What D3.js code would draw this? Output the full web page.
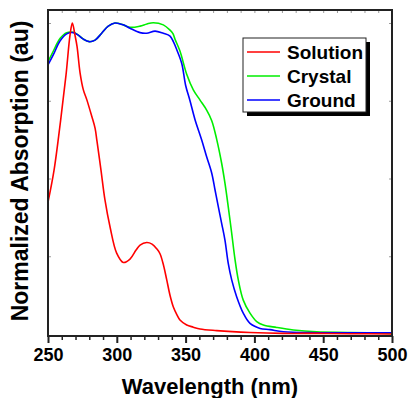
<!DOCTYPE html>
<html>
<head>
<meta charset="utf-8">
<script src="https://cdn.jsdelivr.net/npm/d3@7"></script>
<style>
  html, body { margin: 0; padding: 0; background: #fff; }
  svg { display: block; font-family: "Liberation Sans", Arial, sans-serif; }
</style>
</head>
<body>
<div id="chart"></div>
<script>
// wavelength (nm) / normalized absorption
const seriesNames = ["Solution", "Crystal", "Ground"];

const solutionNm = [250, 254.4, 259.2, 263.1, 266, 267.7, 269.6, 271.1, 273.3, 275.7, 278.3, 281.8, 284.2, 285.6, 288.5, 291.4, 295.1, 299.9, 304.7, 309.6, 314, 316.9, 321.7, 325.6, 329.2, 331.4, 333.9, 336.3, 338.7, 341.1, 343.8, 345.9, 350.8, 355.6, 360.5, 372.6, 396.8, 420.8, 445.5, 470, 500];
const solutionAbs = [0.424, 0.527, 0.688, 0.833, 0.961, 1.0, 0.961, 0.925, 0.84, 0.785, 0.752, 0.7, 0.662, 0.62, 0.527, 0.431, 0.344, 0.26, 0.23, 0.241, 0.27, 0.286, 0.294, 0.289, 0.273, 0.258, 0.222, 0.174, 0.124, 0.087, 0.061, 0.045, 0.029, 0.022, 0.016, 0.011, 0.005, 0.002, 0.002, 0.001, 0.0];

const crystalNm = [250, 253.9, 258.7, 263.6, 268.4, 272, 275.7, 280, 284.2, 289, 293.8, 298.7, 304.7, 309.6, 316.9, 321.9, 326.5, 333.8, 338.7, 340.8, 342.3, 345.9, 350.8, 355.6, 360.5, 365.3, 369, 372.6, 376.2, 378.6, 381, 383.5, 385.9, 388.3, 391.9, 396.8, 401.7, 406.5, 416.2, 428.3, 445.3, 469.5, 500];
const crystalAbs = [0.875, 0.91, 0.95, 0.969, 0.97, 0.961, 0.948, 0.94, 0.945, 0.967, 0.99, 1.0, 0.994, 0.986, 0.99, 0.997, 1.001, 0.994, 0.977, 0.966, 0.948, 0.91, 0.835, 0.785, 0.752, 0.72, 0.686, 0.626, 0.549, 0.485, 0.409, 0.324, 0.24, 0.174, 0.109, 0.067, 0.04, 0.029, 0.021, 0.013, 0.007, 0.005, 0.002];

const groundNm = [250, 253.9, 258.7, 263.6, 268.4, 272, 275.7, 280, 284.2, 289, 293.8, 298.7, 304.7, 309.6, 316.9, 321.7, 327.8, 333.8, 338.7, 341.1, 343.5, 347.2, 350, 353.2, 356.8, 361.7, 365.3, 369, 371.4, 373.8, 376.2, 378.6, 381, 383.5, 387.1, 391.9, 396.8, 404.1, 411.3, 421, 445.3, 500];
const groundAbs = [0.865, 0.898, 0.942, 0.965, 0.969, 0.961, 0.948, 0.94, 0.945, 0.967, 0.99, 1.0, 0.994, 0.983, 0.969, 0.967, 0.974, 0.967, 0.958, 0.94, 0.915, 0.87, 0.8, 0.75, 0.69, 0.624, 0.57, 0.517, 0.463, 0.409, 0.356, 0.302, 0.227, 0.174, 0.12, 0.067, 0.034, 0.018, 0.014, 0.007, 0.004, 0.004];

const xMajor = [250, 300, 350, 400, 450, 500];
const yTicks = [0, 0.25, 0.5, 0.75, 1];

const width = 409, height = 398;
const box = { left: 48, right: 392, top: 10, bottom: 336 };
const colors = { Solution: "#ff0000", Crystal: "#00ee00", Ground: "#0000ff" };
const frameColor = "#222";

const svg = d3.select("#chart").append("svg")
    .attr("width", width)
    .attr("height", height);

const x = d3.scaleLinear().domain([250, 500]).range([box.left, box.right]);
const y = d3.scaleLinear().domain([0, 1]).range([box.bottom - 2, 23]);

// clip lines to the frame
svg.append("clipPath").attr("id", "plot-clip")
    .append("rect")
    .attr("x", box.left).attr("y", box.top)
    .attr("width", box.right - box.left).attr("height", box.bottom - box.top);

const series = [
    { name: "Solution", nm: solutionNm, abs: solutionAbs },
    { name: "Crystal", nm: crystalNm, abs: crystalAbs },
    { name: "Ground", nm: groundNm, abs: groundAbs }
];

const line = d3.line()
    .x(d => x(d[0]))
    .y(d => y(d[1]))
    .curve(d3.curveCatmullRom.alpha(0.5));

const linesG = svg.append("g").attr("clip-path", "url(#plot-clip)");
// crystal first, then ground, solution on top
[series[1], series[2], series[0]].forEach(s => {
    linesG.append("path")
        .datum(d3.zip(s.nm, s.abs))
        .attr("fill", "none")
        .attr("stroke", colors[s.name])
        .attr("stroke-width", 1.6)
        .attr("stroke-linejoin", "round")
        .attr("d", line);
});

// bottom axis: major + minor ticks outward
const minorTicks = d3.range(250, 501, 10).filter(v => !xMajor.includes(v));

svg.append("g")
    .attr("transform", `translate(0,${box.bottom})`)
    .call(d3.axisBottom(x).tickValues(minorTicks).tickSize(4).tickFormat(""))
    .call(g => g.select(".domain").remove())
    .call(g => g.selectAll("line").attr("stroke", frameColor).attr("stroke-width", 1.5));

const xAxis = svg.append("g")
    .attr("transform", `translate(0,${box.bottom})`)
    .call(d3.axisBottom(x).tickValues(xMajor).tickSize(7).tickPadding(5).tickFormat(d3.format("d")));
xAxis.select(".domain").remove();
xAxis.selectAll("line").attr("stroke", frameColor).attr("stroke-width", 2);
xAxis.selectAll("text")
    .attr("fill", "#000")
    .style("font-size", "18px")
    .style("font-weight", "bold")
    .style("font-family", "'Liberation Sans', Arial, sans-serif");

// faint mirror ticks inside the frame
const mirror = "#9a9a9a";
svg.append("g")
    .attr("transform", `translate(0,${box.top})`)
    .call(d3.axisBottom(x).tickValues(d3.range(260, 500, 10)).tickSize(3).tickFormat(""))
    .call(g => g.select(".domain").remove())
    .call(g => g.selectAll("line").attr("stroke", mirror));

svg.append("g")
    .attr("transform", `translate(${box.left},0)`)
    .call(d3.axisRight(y).tickValues(yTicks.slice(1)).tickSize(3).tickFormat(""))
    .call(g => g.select(".domain").remove())
    .call(g => g.selectAll("line").attr("stroke", mirror));

svg.append("g")
    .attr("transform", `translate(${box.right},0)`)
    .call(d3.axisLeft(y).tickValues(yTicks.slice(1)).tickSize(3).tickFormat(""))
    .call(g => g.select(".domain").remove())
    .call(g => g.selectAll("line").attr("stroke", mirror));

// frame
svg.append("rect")
    .attr("x", box.left).attr("y", box.top)
    .attr("width", box.right - box.left).attr("height", box.bottom - box.top)
    .attr("fill", "none")
    .attr("stroke", frameColor)
    .attr("stroke-width", 2);

// axis titles
svg.append("text")
    .attr("x", 210).attr("y", 394)
    .attr("text-anchor", "middle")
    .style("font-size", "22px").style("font-weight", "bold")
    .text("Wavelength (nm)");

svg.append("text")
    .attr("transform", "translate(28,171) rotate(-90)")
    .attr("text-anchor", "middle")
    .style("font-size", "23px").style("font-weight", "bold")
    .text("Normalized Absorption (au)");

// legend with drop shadow
const legend = svg.append("g");
legend.append("rect")
    .attr("x", 247).attr("y", 42).attr("width", 123).attr("height", 74)
    .attr("fill", "#000");
legend.append("rect")
    .attr("x", 243).attr("y", 38).attr("width", 123).attr("height", 74)
    .attr("fill", "#fff").attr("stroke", frameColor).attr("stroke-width", 1);

seriesNames.forEach((name, i) => {
    const ly = 52 + i * 24;
    legend.append("line")
        .attr("x1", 247).attr("x2", 280)
        .attr("y1", ly).attr("y2", ly)
        .attr("stroke", colors[name]).attr("stroke-width", 1.6);
    legend.append("text")
        .attr("x", 287).attr("y", ly + 6.5)
        .style("font-size", "19px").style("font-weight", "bold")
        .text(name);
});
</script>
</body>
</html>
